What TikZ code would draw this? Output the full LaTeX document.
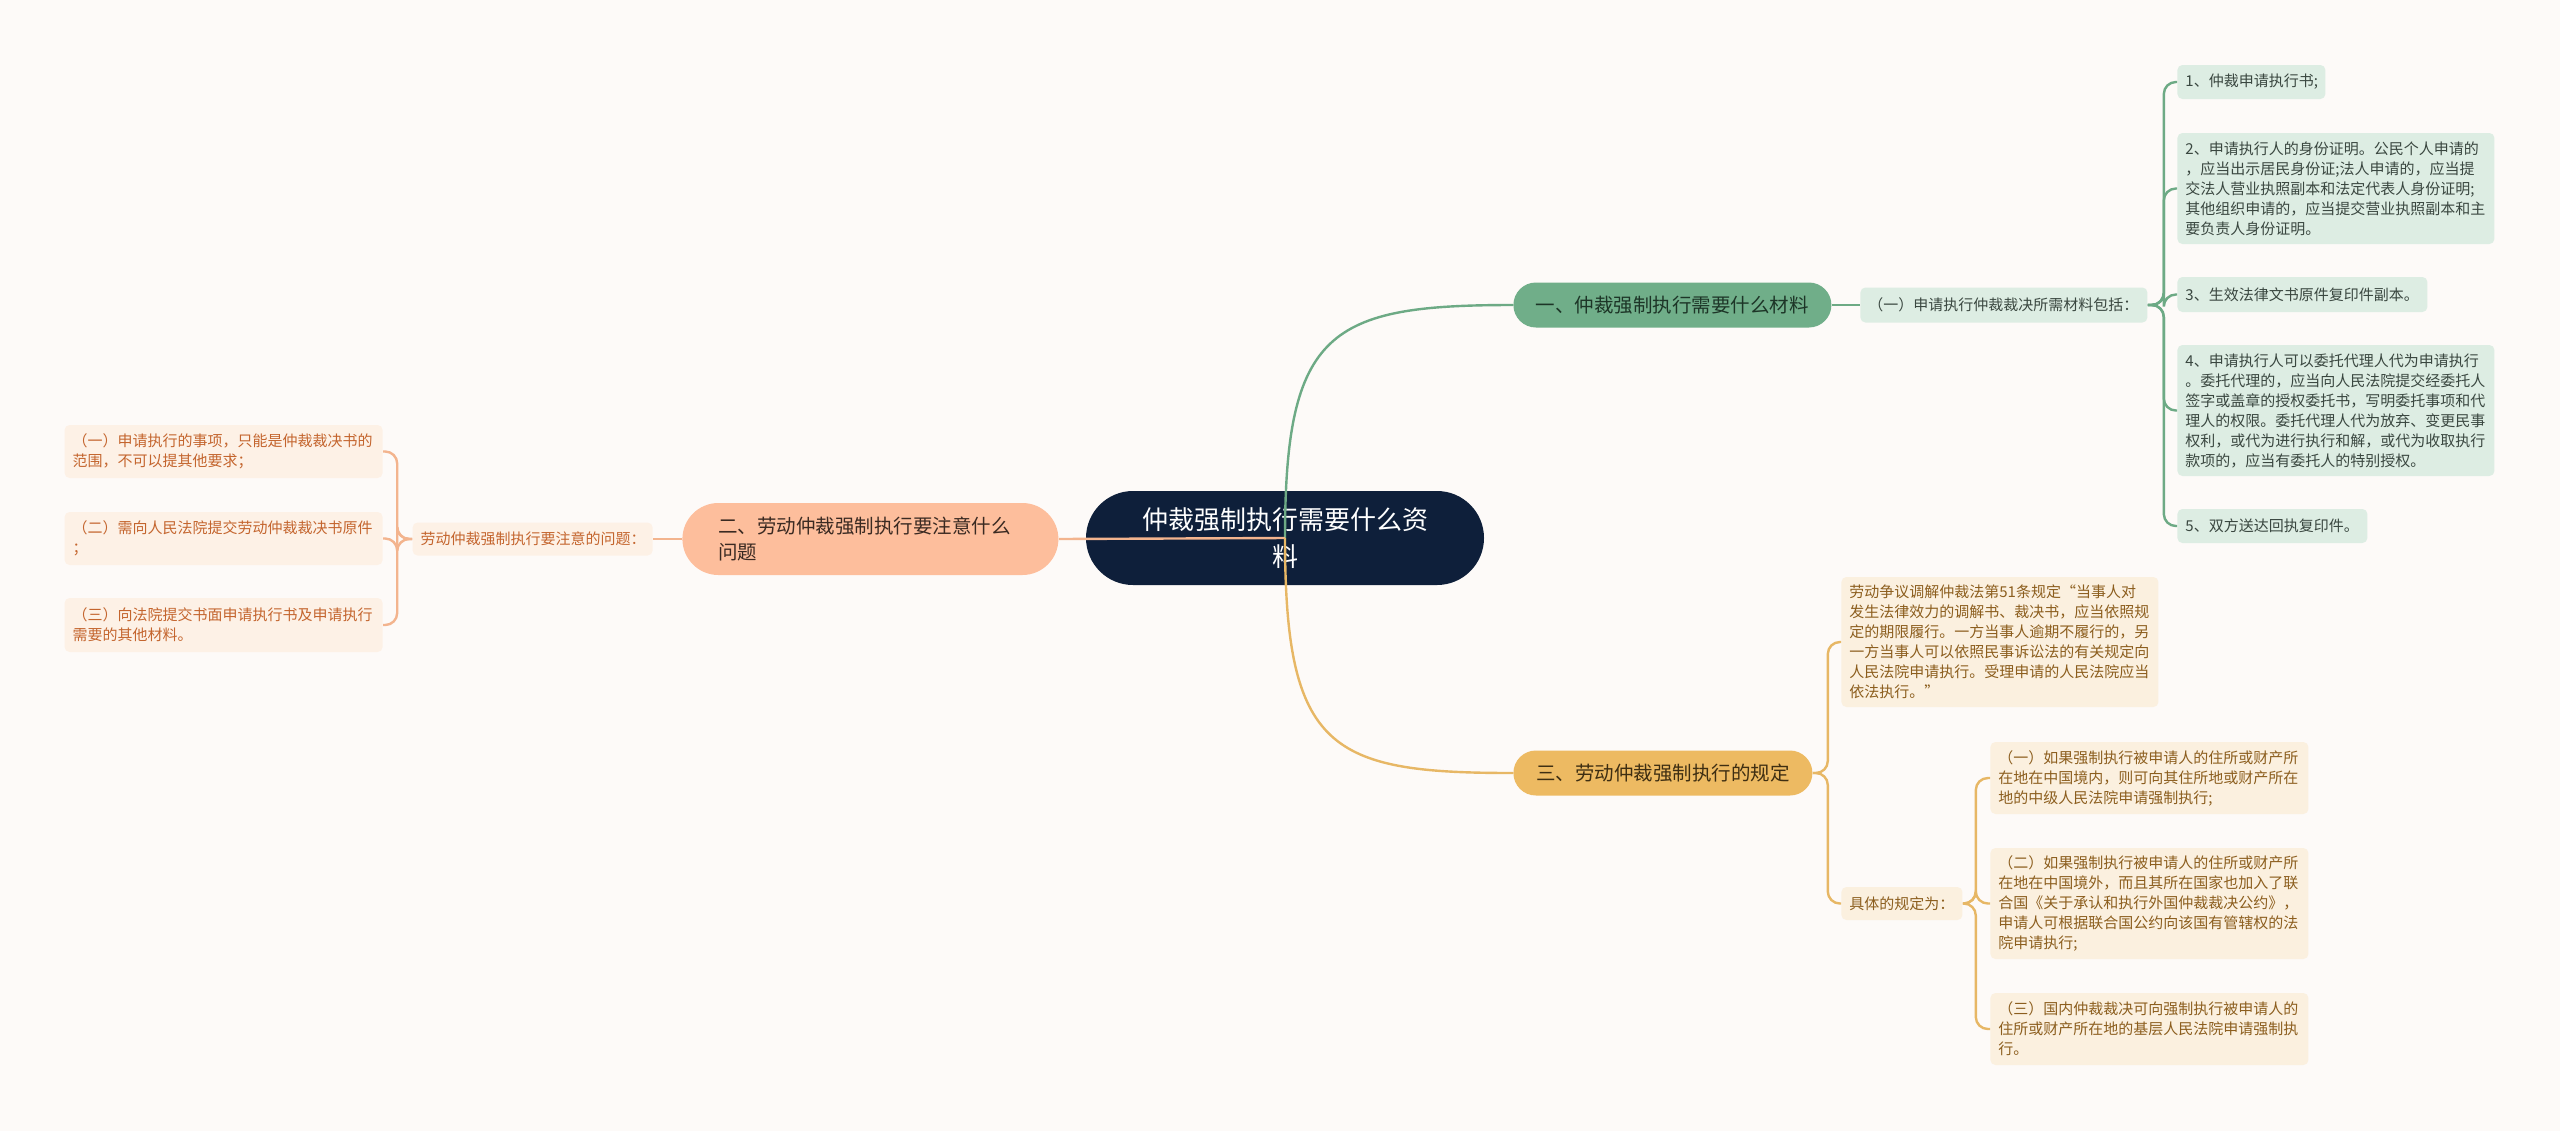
\documentclass[tikz,border=0pt]{standalone}
\usepackage{fontspec}
\setmainfont{Noto Sans CJK SC}
\usetikzlibrary{positioning}

\definecolor{bgcol}{HTML}{FDFAF8}
\definecolor{rootcol}{HTML}{0E1F3A}
\definecolor{grnfill}{HTML}{70AE89}
\definecolor{grnline}{HTML}{6DAA85}
\definecolor{grnleaf}{HTML}{DDEDE3}
\definecolor{grntext}{HTML}{3A4740}
\definecolor{grndark}{HTML}{1D3527}
\definecolor{orgfill}{HTML}{FDBE9C}
\definecolor{orgline}{HTML}{F3B48E}
\definecolor{orgleaf}{HTML}{FDF1E6}
\definecolor{orgtext}{HTML}{C4652E}
\definecolor{orgdark}{HTML}{3A2A22}
\definecolor{ylwfill}{HTML}{EDBA62}
\definecolor{ylwline}{HTML}{E7B765}
\definecolor{ylwleaf}{HTML}{FBF0DF}
\definecolor{ylwtext}{HTML}{8C5E1E}
\definecolor{ylwdark}{HTML}{3E2E12}

\begin{document}
\begin{tikzpicture}[x=0.5pt,y=-0.5pt,
    leaf/.style={rounded corners=2.5pt, inner xsep=4pt, inner ysep=0pt, anchor=west,
      align=left, font=\fontsize{7.5pt}{10pt}\selectfont},
    topic/.style={inner sep=0pt, align=center, font=\fontsize{9.75pt}{13pt}\selectfont,
      minimum height=22.5pt, rounded corners=11.25pt, anchor=west},
    gleaf/.style={leaf, fill=grnleaf, text=grntext},
    oleaf/.style={leaf, fill=orgleaf, text=orgtext},
    yleaf/.style={leaf, fill=ylwleaf, text=ylwtext},
    gwire/.style={draw=grnline, line width=1.2pt, rounded corners=6pt},
    owire/.style={draw=orgline, line width=1.2pt, rounded corners=6pt},
    ywire/.style={draw=ylwline, line width=1.2pt, rounded corners=6pt}]

  \fill[bgcol] (0,0) rectangle (2560,1131);
  \useasboundingbox (0,0) rectangle (2560,1131);

  % centre
  \node (root) [fill=rootcol, text=white, rounded corners=23.5pt, minimum width=199pt,
    minimum height=47pt, inner sep=0pt, align=center,
    font=\fontsize{13pt}{18.5pt}\selectfont] at (1285,538) {仲裁强制执行需要什么资\\料};

  % first branch
  \node (mat) [topic, fill=grnfill, text=grndark, minimum width=159pt] at (1513,305)
    {一、仲裁强制执行需要什么材料};
  \node (matsub) [gleaf, text width=135.5pt, minimum height=17.5pt] at (1860,305)
    {（一）申请执行仲裁裁决所需材料包括：};
  \node (m1) [gleaf, text width=66pt, minimum height=17pt] at (2177,82)
    {1、仲裁申请执行书;};
  \node (m2) [gleaf, text width=150.5pt, minimum height=55.5pt] at (2177,188.5)
    {2、申请执行人的身份证明。公民个人申请的\\，应当出示居民身份证;法人申请的，应当提\\交法人营业执照副本和法定代表人身份证明;\\其他组织申请的，应当提交营业执照副本和主\\要负责人身份证明。};
  \node (m3) [gleaf, text width=117pt, minimum height=17.5pt] at (2177,294.5)
    {3、生效法律文书原件复印件副本。};
  \node (m4) [gleaf, text width=150.5pt, minimum height=65.5pt] at (2177,410.5)
    {4、申请执行人可以委托代理人代为申请执行\\。委托代理的，应当向人民法院提交经委托人\\签字或盖章的授权委托书，写明委托事项和代\\理人的权限。委托代理人代为放弃、变更民事\\权利，或代为进行执行和解，或代为收取执行\\款项的，应当有委托人的特别授权。};
  \node (m5) [gleaf, text width=87pt, minimum height=17pt] at (2177,526)
    {5、双方送达回执复印件。};

  % second branch
  \node (att) [topic, fill=orgfill, text=orgdark, minimum width=188pt, minimum height=36pt,
    rounded corners=18pt, inner xsep=18pt, text width=152pt, align=left] at (682,539)
    {二、劳动仲裁强制执行要注意什么\\问题};
  \node (attsub) [oleaf, text width=112pt, minimum height=16.5pt, anchor=east] at (653,539)
    {劳动仲裁强制执行要注意的问题：};
  \node (a1) [oleaf, text width=151pt, minimum height=26.5pt, anchor=east] at (383,451.5)
    {（一）申请执行的事项，只能是仲裁裁决书的\\范围，不可以提其他要求；};
  \node (a2) [oleaf, text width=151pt, minimum height=26.5pt, anchor=east] at (383,538.5)
    {（二）需向人民法院提交劳动仲裁裁决书原件\\；};
  \node (a3) [oleaf, text width=151pt, minimum height=27pt, anchor=east] at (383,625)
    {（三）向法院提交书面申请执行书及申请执行\\需要的其他材料。};

  % third branch
  \node (rule) [topic, fill=ylwfill, text=ylwdark, minimum width=149.5pt] at (1513,773)
    {三、劳动仲裁强制执行的规定};
  \node (law) [yleaf, text width=150.5pt, minimum height=65pt] at (1841,642)
    {劳动争议调解仲裁法第51条规定“当事人对\\发生法律效力的调解书、裁决书，应当依照规\\定的期限履行。一方当事人逾期不履行的，另\\一方当事人可以依照民事诉讼法的有关规定向\\人民法院申请执行。受理申请的人民法院应当\\依法执行。”};
  \node (rulesub) [yleaf, text width=52.5pt, minimum height=16.5pt] at (1841,903.5)
    {具体的规定为：};
  \node (r1) [yleaf, text width=151pt, minimum height=36pt] at (1990,778)
    {（一）如果强制执行被申请人的住所或财产所\\在地在中国境内，则可向其住所地或财产所在\\地的中级人民法院申请强制执行;};
  \node (r2) [yleaf, text width=151pt, minimum height=55.5pt] at (1990,903.5)
    {（二）如果强制执行被申请人的住所或财产所\\在地在中国境外，而且其所在国家也加入了联\\合国《关于承认和执行外国仲裁裁决公约》，\\申请人可根据联合国公约向该国有管辖权的法\\院申请执行;};
  \node (r3) [yleaf, text width=151pt, minimum height=36pt] at (1990,1029)
    {（三）国内仲裁裁决可向强制执行被申请人的\\住所或财产所在地的基层人民法院申请强制执\\行。};

  % connectors
  \draw[gwire] (root.center) .. controls (1285,330) and (1330,305) .. (mat.west);
  \draw[gwire] (mat.east) -- (matsub.west);
  \foreach \n in {m1,m2,m3,m4,m5}
    \draw[gwire] (matsub.east) -- ++(16,0) |- (\n.west);

  \draw[owire] (root.center) -- (att.east);
  \draw[owire] (att.west) -- (attsub.east);
  \foreach \n in {a1,a2,a3}
    \draw[owire] (attsub.west) -- ++(-15,0) |- (\n.east);

  \draw[ywire] (root.center) .. controls (1285,750) and (1330,773) .. (rule.west);
  \draw[ywire] (rule.east) -- ++(15,0) |- (law.west);
  \draw[ywire] (rule.east) -- ++(15,0) |- (rulesub.west);
  \foreach \n in {r1,r2,r3}
    \draw[ywire] (rulesub.east) -- ++(13,0) |- (\n.west);
\end{tikzpicture}
\end{document}
